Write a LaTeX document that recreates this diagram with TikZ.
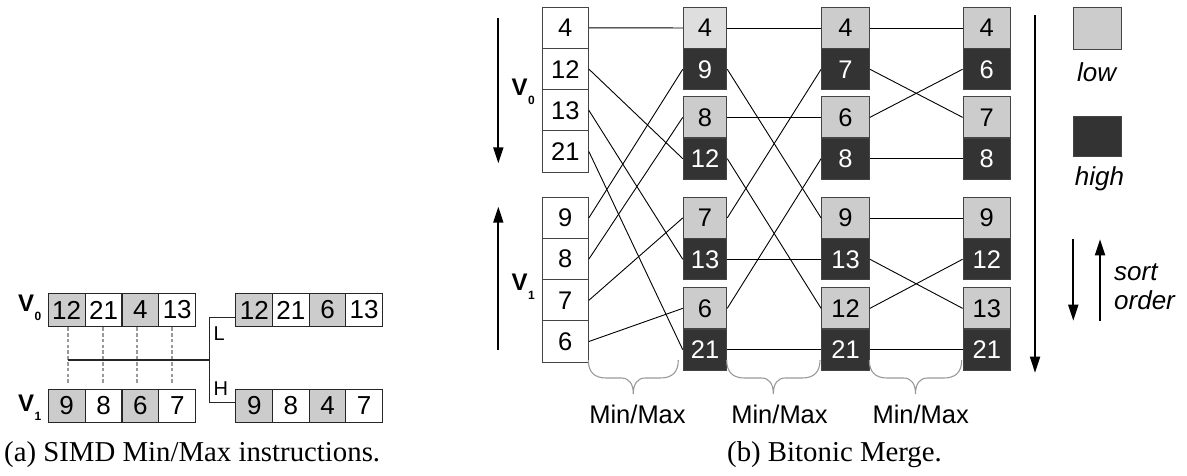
\documentclass[tikz,border=0pt]{standalone}
\usepackage{fontspec}
\setmainfont{Liberation Serif}
\setsansfont{Liberation Sans}
\usetikzlibrary{arrows.meta}

\definecolor{lowfill}{HTML}{CCCCCC}
\definecolor{lowpale}{HTML}{DEDEDE}
\definecolor{highfill}{HTML}{333333}
\definecolor{edge}{HTML}{444444}
\definecolor{guide}{HTML}{999999}

% bold sans V with a small lowered index
\newcommand{\vecname}[1]{{\sffamily\bfseries\fontsize{24}{24}\selectfont V\kern0.5pt\raisebox{-9pt}{\fontsize{12}{12}\selectfont #1}}}

\tikzset{
  numfont/.style={font=\sffamily\fontsize{25.5}{26}\selectfont},
  acell/.style={font=\sffamily\fontsize{26}{26}\selectfont, draw=black!85, line width=1.1pt,
                minimum width=36.8pt, minimum height=33.4pt, inner sep=0pt, fill=white},
  incell/.style={numfont, draw=edge, line width=1.1pt, fill=white,
                 minimum width=46pt, minimum height=41.2pt, inner sep=0pt},
  basecell/.style={numfont, draw=edge, line width=1.1pt,
                   minimum height=41.3pt, inner sep=0pt},
  lowcell/.style={basecell, fill=lowfill, text=black},
  palecell/.style={basecell, fill=lowpale, text=black},
  highcell/.style={basecell, fill=highfill, text=white},
  wire/.style={draw=black, line width=0.9pt},
  awire/.style={draw=black!85, line width=1.1pt},
  dashline/.style={draw=guide, line width=1.7pt, dash pattern=on 3.5pt off 2.3pt},
  brc/.style={draw=guide, line width=1.1pt},
  bigarrow/.style={draw=black, line width=1.8pt, -{Triangle[length=16pt,width=10pt]}},
  label/.style={font=\sffamily\fontsize{25.5}{26}\selectfont, inner sep=0pt},
  itlabel/.style={font=\sffamily\itshape\fontsize{26}{26}\selectfont, inner sep=0pt},
  lhlabel/.style={font=\sffamily\fontsize{20}{20}\selectfont, inner sep=0pt},
  caption/.style={font=\rmfamily\fontsize{28.8}{30}\selectfont, inner sep=0pt},
  legbox/.style={draw=edge, line width=1.1pt, minimum width=48.4pt, inner sep=0pt},
}

\begin{document}
\begin{tikzpicture}[x=1pt,y=-1pt]
\useasboundingbox (0,0) rectangle (1187,475);

% ---------------- (a) SIMD min/max ----------------
\foreach \v/\x/\f [count=\i from 0] in {12/66.7/lowfill,21/103.55/white,4/140.4/lowfill,13/177.25/white}
  \node[acell, fill=\f] (al\i) at (\x,310) {\v};
\foreach \v/\x/\f [count=\i from 0] in {9/66.7/lowfill,8/103.55/white,6/140.4/lowfill,7/177.25/white}
  \node[acell, fill=\f] (bl\i) at (\x,405.8) {\v};
\foreach \v/\x/\f [count=\i from 0] in {12/254.3/lowfill,21/290.9/white,6/327.5/lowfill,13/364.1/white}
  \node[acell, fill=\f] (ar\i) at (\x,310) {\v};
\foreach \v/\x/\f [count=\i from 0] in {9/254.3/lowfill,8/290.9/white,4/327.5/lowfill,7/364.1/white}
  \node[acell, fill=\f] (br\i) at (\x,405.8) {\v};

\node[anchor=base west, inner sep=0pt] (va0) at (18,311.7) {\vecname{0}};
\node[anchor=base west, inner sep=0pt] (va1) at (18,411.7) {\vecname{1}};

% lane pairs feeding the comparator
\foreach \i/\s in {0/1.6,1/-0.85,2/-3.1,3/-5.55}
  \draw[dashline, shorten >=4pt] ([xshift=\s pt]al\i.south) -- ([xshift=\s pt]bl\i.north);

\coordinate (hstart) at (68.3,360);
\coordinate (hjoin) at (209.3,360);
\coordinate (jtop) at (209.3,317.3);
\coordinate (jbot) at (209.3,402.3);
\draw[awire] (hstart) -- (hjoin);
\draw[awire] (jtop -| ar0.west) -- (jtop) -- (jbot) -- (jbot -| br0.west);
\node[lhlabel, anchor=base west] (lowtag) at (213.5,340) {L};
\node[lhlabel, anchor=base west] (hightag) at (213.5,395.7) {H};

\node[caption, anchor=base west] (capa) at (4,461.5) {(a) SIMD Min/Max instructions.};

% ---------------- (b) bitonic merge ----------------
\foreach \v/\y [count=\i from 0] in {4/27.9,12/69.1,13/110.3,21/151.5,9/217.9,8/259.1,7/300.3,6/341.5}
  \node[incell] (c1r\i) at (565.3,\y) {\v};

\foreach \v/\y/\s [count=\i from 0] in {4/27.95/palecell,9/69.25/highcell,8/117.35/lowcell,12/158.65/highcell,
                                        7/217.95/lowcell,13/259.25/highcell,6/308.35/lowcell,21/349.65/highcell}
  \node[\s, minimum width=43.4pt] (c2r\i) at (705,\y) {\v};

\foreach \v/\y/\s [count=\i from 0] in {4/27.95/lowcell,7/69.25/highcell,6/117.35/lowcell,8/158.65/highcell,
                                        9/217.95/lowcell,13/259.25/highcell,12/308.35/lowcell,21/349.65/highcell}
  \node[\s, minimum width=47.7pt] (c3r\i) at (845.5,\y) {\v};

\foreach \v/\y/\s [count=\i from 0] in {4/27.95/lowcell,6/69.25/highcell,7/117.35/lowcell,8/158.65/highcell,
                                        9/217.95/lowcell,12/259.25/highcell,13/308.35/lowcell,21/349.65/highcell}
  \node[\s, minimum width=47.3pt] (c4r\i) at (986.8,\y) {\v};

% comparator wiring between stages
\foreach \a/\b in {0/0,1/3,2/5,3/7,4/1,5/2,6/4,7/6}
  \draw[wire] (c1r\a.east) -- (c2r\b.west);
\foreach \a/\b in {0/0,1/4,2/2,3/6,4/1,5/5,6/3,7/7}
  \draw[wire] (c2r\a.east) -- (c3r\b.west);
\foreach \a/\b in {0/0,1/2,2/1,3/3,4/4,5/6,6/5,7/7}
  \draw[wire] (c3r\a.east) -- (c4r\b.west);

% braces under each stage
\foreach \xa/\xb in {588.3/678.3,726.7/820,869.3/961.7}{
  \pgfmathsetmacro{\xm}{(\xa+\xb)/2}
  \draw[brc] (\xa,360) .. controls (\xa,372) and ({\xa+6},378) .. ({\xa+18},378)
    -- ({\xm-12},378) .. controls ({\xm-4},378) and (\xm,384) .. (\xm,394)
    .. controls (\xm,384) and ({\xm+4},378) .. ({\xm+12},378)
    -- ({\xb-18},378) .. controls ({\xb-6},378) and (\xb,372) .. (\xb,360);
}
\node[label, anchor=base] (mm1) at (637.5,423.3) {Min/Max};
\node[label, anchor=base] (mm2) at (779.5,423.3) {Min/Max};
\node[label, anchor=base] (mm3) at (920.7,423.3) {Min/Max};

% input vectors and their directions
\coordinate (v0a) at (498.3,18.3);
\coordinate (v0b) at (498.3,163.3);
\coordinate (v1a) at (498.3,350);
\coordinate (v1b) at (498.3,206.7);
\draw[bigarrow] (v0a) -- (v0b);
\draw[bigarrow] (v1a) -- (v1b);
\node[anchor=base west, inner sep=0pt] (vb0) at (511.5,95) {\vecname{0}};
\node[anchor=base west, inner sep=0pt] (vb1) at (511.5,290) {\vecname{1}};

% overall output direction
\coordinate (outa) at (1035,15);
\coordinate (outb) at (1035,372.7);
\draw[bigarrow] (outa) -- (outb);

% legend
\node[legbox, fill=lowfill, minimum height=42pt] (leglow) at (1097.5,28.3) {};
\node[itlabel, anchor=base] (leglowtxt) at (1096.7,81) {low};
\node[legbox, fill=highfill, minimum height=40.7pt] (leghigh) at (1097.5,136.4) {};
\node[itlabel, anchor=base] (leghightxt) at (1099.5,185) {high};

\coordinate (sda) at (1073.3,239.3);
\coordinate (sdb) at (1073.3,320.7);
\coordinate (sua) at (1100,320.7);
\coordinate (sub) at (1100,239.3);
\draw[bigarrow] (sda) -- (sdb);
\draw[bigarrow] (sua) -- (sub);
\node[itlabel, anchor=base west] (sorttxt) at (1114,280) {sort};
\node[itlabel, anchor=base west] (ordertxt) at (1114,309) {order};

\node[caption, anchor=base west] (capb) at (727,461) {(b) Bitonic Merge.};
\end{tikzpicture}
\end{document}
